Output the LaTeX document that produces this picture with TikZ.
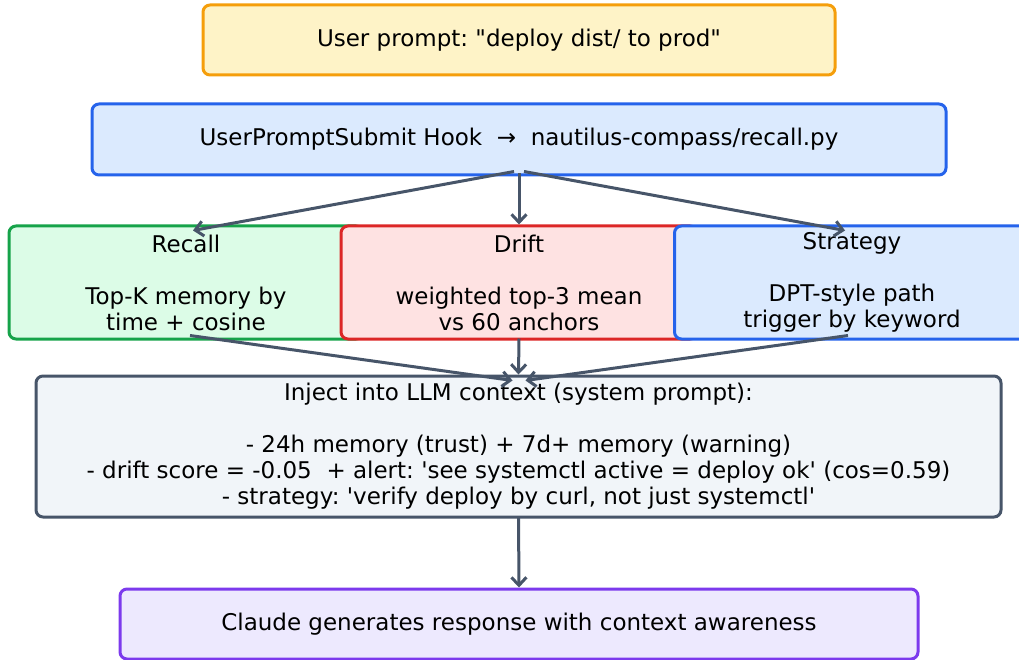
\documentclass[tikz,border=0pt]{standalone}
\usepackage{fontspec}
\setmainfont{DejaVu Sans}[Ligatures=TeXOff]
\usepackage{tikz}
\usetikzlibrary{arrows.meta, positioning, calc}
\definecolor{promptFill}{RGB}{254, 243, 199}
\definecolor{promptLine}{RGB}{245, 158, 11}
\definecolor{blueFill}{RGB}{219, 234, 254}
\definecolor{blueLine}{RGB}{37, 99, 235}
\definecolor{recallFill}{RGB}{220, 252, 231}
\definecolor{recallLine}{RGB}{22, 163, 74}
\definecolor{driftFill}{RGB}{254, 226, 226}
\definecolor{driftLine}{RGB}{220, 38, 38}
\definecolor{injectFill}{RGB}{241, 245, 249}
\definecolor{slateLine}{RGB}{71, 85, 105}
\definecolor{claudeFill}{RGB}{237, 233, 254}
\definecolor{claudeLine}{RGB}{124, 58, 237}
\frenchspacing

\begin{document}
\begin{tikzpicture}[x=1pt, y=-1pt,
        box/.style={rectangle, rounded corners=7pt, line width=3pt, align=center,
            inner sep=0pt, font=\fontsize{23pt}{26pt}\selectfont},
        flow/.style={-{Straight Barb[length=8pt,width=15pt]}, line width=3pt, slateLine}]
        \useasboundingbox (0,0) rectangle (1019,660);
        % Input and hook
        \node[box, draw=promptLine, fill=promptFill, minimum width=632pt, minimum height=70pt]
            (prompt) at (519,40) {User prompt: "deploy dist/ to prod"};
        \node[box, draw=blueLine, fill=blueFill, minimum width=854pt, minimum height=71pt]
            (hook) at (519,139.5) {UserPromptSubmit Hook \ →\ \ nautilus-compass/recall.py};

        % Three modules
        \node[box, draw=recallLine, fill=recallFill, minimum width=354pt, minimum height=113pt]
            (recall) at (186,282.5) {Recall\\\mbox{}\\Top-K memory by\\time + cosine};
        \node[box, draw=driftLine, fill=driftFill, minimum width=356pt, minimum height=113pt]
            (drift) at (519,282.5) {Drift\\\mbox{}\\weighted top-3 mean\\vs 60 anchors};
        \node[box, draw=blueLine, fill=blueFill, minimum width=355pt, minimum height=113pt]
            (strategy) at (852,282.5) {Strategy\\\mbox{}\\DPT-style path\\trigger by keyword};

        % Context and response
        \node[box, draw=slateLine, fill=injectFill, minimum width=965pt, minimum height=141pt]
            (inject) at (518.5,446.5) {Inject into LLM context (system prompt):\\\mbox{}\\- 24h memory (trust) + 7d+ memory (warning)\\- drift score = -0.05 \ + alert: 'see systemctl active = deploy ok' (cos=0.59)\\- strategy: 'verify deploy by curl, not just systemctl'};
        \node[box, draw=claudeLine, fill=claudeFill, minimum width=798pt, minimum height=70pt]
            (claude) at (519,624) {Claude generates response with context awareness};

        % Arrows
        \draw[flow] ($(hook.south)+(-5,-5)$) -- ($(recall.north)+(7,6)$);
        \draw[flow] ($(hook.south)+(0,-3)$) -- (drift.north);
        \draw[flow] ($(hook.south)+(5,-5)$) -- ($(strategy.north)+(-7,6)$);
        \draw[flow] ($(recall.south)+(4,-5)$) -- ($(inject.north)+(-6,6)$);
        \draw[flow] ($(drift.south)+(0,-2)$) -- (inject.north);
        \draw[flow] ($(strategy.south)+(-4,-5)$) -- ($(inject.north)+(7,6)$);
        \draw[flow] ($(inject.south)+(0,-1)$) -- (claude.north);
    \end{tikzpicture}
\end{document}
